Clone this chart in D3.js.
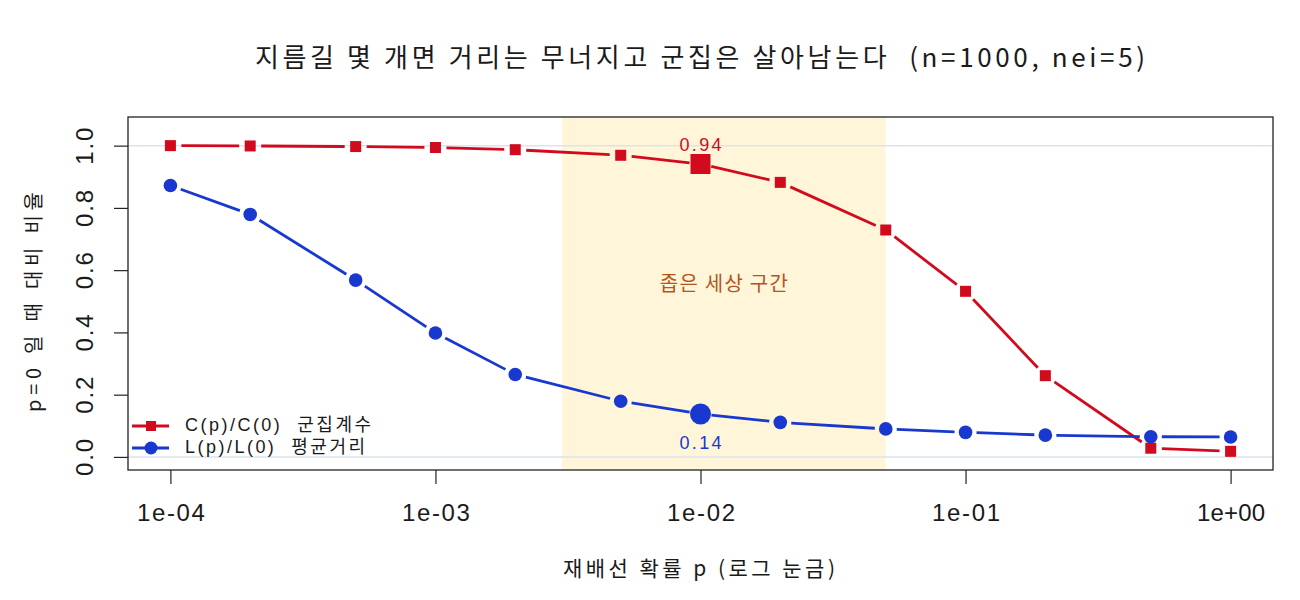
<!DOCTYPE html>
<html>
<head>
<meta charset="utf-8">
<script src="https://cdn.jsdelivr.net/npm/d3@7"></script>
<style>
  body { margin: 0; background: #fff; }
  svg text { font-family: "Noto Sans CJK KR", "Noto Sans", sans-serif; white-space: pre; }
</style>
</head>
<body>
<svg id="chart"></svg>
<script>
// rewiring probabilities and normalised metrics
var pValues = [1e-4, 2e-4, 5e-4, 1e-3, 2e-3, 5e-3, 1e-2, 2e-2, 5e-2, 1e-1, 2e-1, 5e-1, 1];
var clustering = [1.0, 0.999, 0.997, 0.994, 0.987, 0.969, 0.941, 0.882, 0.729, 0.532, 0.261, 0.028, 0.018];
var pathLength = [0.872, 0.779, 0.568, 0.398, 0.265, 0.179, 0.138, 0.111, 0.090, 0.079, 0.070, 0.065, 0.064];
var xTicks = [1e-4, 1e-3, 1e-2, 1e-1, 1];
var xTickLabels = ["1e-04", "1e-03", "1e-02", "1e-01", "1e+00"];
var yTicks = [0, 0.2, 0.4, 0.6, 0.8, 1.0];
var band = [0.003, 0.05];
var highlightP = 1e-2;

var dimensions = {
    width: 1300,
    height: 600,
    margin: { top: 117, bottom: 130, right: 27, left: 128 }
}

var svg = d3.select("#chart")
    .attr("width", dimensions.width)
    .attr("height", dimensions.height)

var x0 = dimensions.margin.left
var x1 = dimensions.width - dimensions.margin.right
var y0 = dimensions.height - dimensions.margin.bottom
var y1 = dimensions.margin.top

var xScale = d3.scaleLog()
    .domain([Math.pow(10, -4.16), Math.pow(10, 0.16)])
    .range([x0, x1])

var yScale = d3.scaleLinear()
    .domain([-0.042, 1.092])
    .range([y0, y1])

var red = "#d10a1e"
var blue = "#1838d0"
var ink = "#1a1a1a"
var latin = "'Liberation Sans', 'Noto Sans CJK KR', sans-serif"

// small-world band
svg.append("rect")
    .attr("x", xScale(band[0]))
    .attr("y", y1)
    .attr("width", xScale(band[1]) - xScale(band[0]))
    .attr("height", y0 - y1)
    .attr("fill", "#fff5d9")

// reference lines at 0 and 1
svg.selectAll(".ref")
    .data([0, 1])
    .enter()
    .append("line")
    .attr("x1", x0).attr("x2", x1)
    .attr("y1", d => yScale(d)).attr("y2", d => yScale(d))
    .attr("stroke", "#dce2ee")
    .attr("stroke-width", 1.5)

svg.append("text")
    .attr("x", (xScale(band[0]) + xScale(band[1])) / 2)
    .attr("y", yScale(0.55))
    .attr("text-anchor", "middle")
    .attr("dominant-baseline", "middle")
    .attr("fill", "#b5541c")
    .attr("textLength", 128)
    .attr("lengthAdjust", "spacing")
    .style("font-size", "20px")
    .text("좁은 세상 구간")

// type="b" style line: segments with gaps around points
function gappedSegments(values, gap) {
    var segs = []
    for (var i = 0; i < values.length - 1; i++) {
        var ax = xScale(pValues[i]), ay = yScale(values[i])
        var bx = xScale(pValues[i + 1]), by = yScale(values[i + 1])
        var dx = bx - ax, dy = by - ay
        var len = Math.sqrt(dx * dx + dy * dy)
        if (len <= 2 * gap) continue
        var ux = dx / len, uy = dy / len
        segs.push([ax + ux * gap, ay + uy * gap, bx - ux * gap, by - uy * gap])
    }
    return segs
}

function drawSeries(values, color, shape) {
    var g = svg.append("g")
    g.selectAll("line")
        .data(gappedSegments(values, 11))
        .enter()
        .append("line")
        .attr("x1", d => d[0]).attr("y1", d => d[1])
        .attr("x2", d => d[2]).attr("y2", d => d[3])
        .attr("stroke", color)
        .attr("stroke-width", 2.8)

    var pts = pValues.map((p, i) => ({ p: p, v: values[i] }))
    if (shape == "square") {
        g.selectAll("rect")
            .data(pts)
            .enter()
            .append("rect")
            .attr("x", d => xScale(d.p) - (d.p == highlightP ? 10 : 5.5))
            .attr("y", d => yScale(d.v) - (d.p == highlightP ? 10 : 5.5))
            .attr("width", d => d.p == highlightP ? 20 : 11)
            .attr("height", d => d.p == highlightP ? 20 : 11)
            .attr("fill", color)
    } else {
        g.selectAll("circle")
            .data(pts)
            .enter()
            .append("circle")
            .attr("cx", d => xScale(d.p))
            .attr("cy", d => yScale(d.v))
            .attr("r", d => d.p == highlightP ? 10.5 : 6.8)
            .attr("fill", color)
    }
}

drawSeries(clustering, red, "square")
drawSeries(pathLength, blue, "circle")

var hi = pValues.indexOf(highlightP)
svg.append("text")
    .attr("x", xScale(highlightP))
    .attr("y", yScale(clustering[hi]) - 18)
    .attr("text-anchor", "middle")
    .attr("dominant-baseline", "middle")
    .attr("fill", red)
    .attr("textLength", 42)
    .attr("lengthAdjust", "spacing")
    .style("font-size", "18px")
    .style("font-family", latin)
    .text(clustering[hi].toFixed(2))

svg.append("text")
    .attr("x", xScale(highlightP))
    .attr("y", yScale(pathLength[hi]) + 30)
    .attr("text-anchor", "middle")
    .attr("dominant-baseline", "middle")
    .attr("fill", blue)
    .attr("textLength", 42)
    .attr("lengthAdjust", "spacing")
    .style("font-size", "18px")
    .style("font-family", latin)
    .text(pathLength[hi].toFixed(2))

// box
svg.append("rect")
    .attr("x", x0).attr("y", y1)
    .attr("width", x1 - x0).attr("height", y0 - y1)
    .attr("fill", "none")
    .attr("stroke", "#222")
    .attr("stroke-width", 1.3)

// axes
var xAxisgen = d3.axisBottom(xScale)
    .tickValues(xTicks)
    .tickFormat((d, i) => xTickLabels[i])
    .tickSize(14)
    .tickSizeOuter(0)

var xAxis = svg.append("g")
    .attr("transform", `translate(0,${y0})`)
    .call(xAxisgen)
xAxis.select(".domain").remove()
xAxis.selectAll("line").attr("stroke", "#222").attr("stroke-width", 1.2)
xAxis.selectAll("text")
    .attr("y", 45).attr("dy", null)
    .attr("dominant-baseline", "middle")
    .attr("textLength", 68)
    .attr("lengthAdjust", "spacing")
    .attr("fill", ink)
    .style("font-size", "24px")
    .style("font-family", latin)

var yAxisgen = d3.axisLeft(yScale)
    .tickValues(yTicks)
    .tickFormat(d3.format(".1f"))
    .tickSize(14)
    .tickSizeOuter(0)

var yAxis = svg.append("g")
    .attr("transform", `translate(${x0},0)`)
    .call(yAxisgen)
yAxis.select(".domain").remove()
yAxis.selectAll("line").attr("stroke", "#222").attr("stroke-width", 1.2)
yAxis.selectAll("text")
    .attr("x", 0).attr("dy", null)
    .attr("text-anchor", "middle")
    .attr("dominant-baseline", "middle")
    .attr("transform", `translate(-41.5,0) rotate(-90)`)
    .attr("textLength", 37)
    .attr("lengthAdjust", "spacing")
    .attr("fill", ink)
    .style("font-size", "24px")
    .style("font-family", latin)

// titles
svg.append("text")
    .attr("x", 255)
    .attr("y", 60)
    .attr("dominant-baseline", "middle")
    .attr("textLength", 890)
    .attr("lengthAdjust", "spacing")
    .attr("fill", ink)
    .style("font-size", "26px")
    .text("지름길 몇 개면 거리는 무너지고 군집은 살아남는다  (n=1000, nei=5)")

svg.append("text")
    .attr("x", 563)
    .attr("y", 570)
    .attr("dominant-baseline", "middle")
    .attr("textLength", 272)
    .attr("lengthAdjust", "spacing")
    .attr("fill", ink)
    .style("font-size", "21px")
    .text("재배선 확률 p (로그 눈금)")

svg.append("text")
    .attr("transform", `translate(36,302) rotate(-90)`)
    .attr("text-anchor", "middle")
    .attr("dominant-baseline", "middle")
    .attr("textLength", 220)
    .attr("lengthAdjust", "spacing")
    .attr("fill", ink)
    .style("font-size", "20px")
    .text("p=0 일 때 대비 비율")

// legend
var legendItems = [
    { label: "C(p)/C(0)  군집계수", color: red, shape: "square", w: 186 },
    { label: "L(p)/L(0)  평균거리", color: blue, shape: "circle", w: 180 }
]
var legend = svg.append("g")
    .selectAll("g")
    .data(legendItems)
    .enter()
    .append("g")
    .attr("transform", (d, i) => `translate(132,${426 + i * 22})`)

legend.append("line")
    .attr("x1", 0).attr("x2", 37)
    .attr("stroke", d => d.color)
    .attr("stroke-width", 2.8)
legend.filter(d => d.shape == "square")
    .append("rect")
    .attr("x", 14).attr("y", -5).attr("width", 10).attr("height", 10)
    .attr("fill", d => d.color)
legend.filter(d => d.shape == "circle")
    .append("circle")
    .attr("cx", 19).attr("r", 6.5)
    .attr("fill", d => d.color)
legend.append("text")
    .attr("x", 53)
    .attr("dominant-baseline", "middle")
    .attr("textLength", d => d.w)
    .attr("lengthAdjust", "spacing")
    .attr("fill", ink)
    .style("font-size", "18px")
    .style("font-family", latin)
    .text(d => d.label)
</script>
</body>
</html>
